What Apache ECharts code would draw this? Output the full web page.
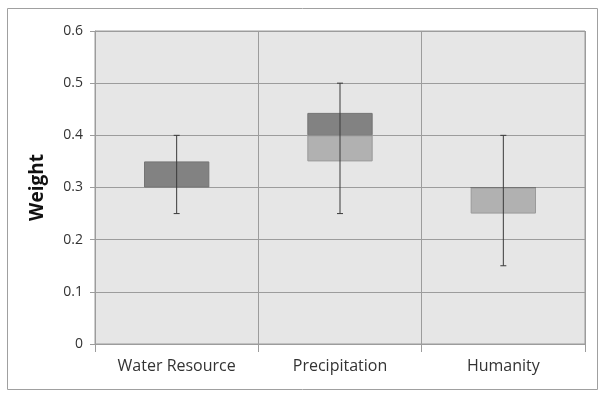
<!DOCTYPE html>
<html style="height: 100%">
<head>
<meta charset="utf-8">
</head>
<body style="height: 100%; margin: 0; background: #fff;">
<div id="container" style="width: 605px; height: 397px;"></div>
<script src="https://cdn.jsdelivr.net/npm/echarts@6/dist/echarts.min.js"></script>
<script>
// box-and-whisker values
var categories = ['Water Resource', 'Precipitation', 'Humanity'];
var whiskerLow = [0.25, 0.25, 0.15];
var q1 = [0.30, 0.35, 0.25];
var median = [0.30, 0.40, 0.30];
var q3 = [0.35, 0.443, 0.30];
var whiskerHigh = [0.40, 0.50, 0.40];
var yTicks = [0, 0.1, 0.2, 0.3, 0.4, 0.5, 0.6];

var lowerBox = q1.map(function (v, i) { return +(median[i] - v).toFixed(3); });
var upperBox = median.map(function (v, i) { return +(q3[i] - v).toFixed(3); });
var whiskers = categories.map(function (c, i) { return [i, whiskerLow[i], whiskerHigh[i]]; });

var chart = echarts.init(document.getElementById('container'));

function renderWhisker(params, api) {
    var lo = api.coord([api.value(0), api.value(1)]);
    var hi = api.coord([api.value(0), api.value(2)]);
    var cap = 3;
    var style = { stroke: '#3a3a3a', lineWidth: 1 };
    return {
        type: 'group',
        children: [
            { type: 'line', shape: { x1: lo[0], y1: lo[1], x2: hi[0], y2: hi[1] }, style: style },
            { type: 'line', shape: { x1: lo[0] - cap, y1: lo[1], x2: lo[0] + cap, y2: lo[1] }, style: style },
            { type: 'line', shape: { x1: hi[0] - cap, y1: hi[1], x2: hi[0] + cap, y2: hi[1] }, style: style }
        ]
    };
}

var option = {
    animation: false,
    textStyle: { fontFamily: 'Open Sans' },
    graphic: [{
        type: 'rect',
        shape: { x: 7.5, y: 8.5, width: 590, height: 381 },
        style: { fill: 'none', stroke: '#a0a0a0', lineWidth: 1 },
        z: -10
    }],
    grid: {
        left: 95, right: 20, top: 31, bottom: 53,
        show: true,
        backgroundColor: '#e6e6e6',
        borderColor: '#9c9c9c',
        borderWidth: 1
    },
    xAxis: {
        type: 'category',
        data: categories,
        boundaryGap: true,
        axisLine: { show: true, lineStyle: { color: '#9c9c9c' } },
        axisTick: { show: true, length: 8, lineStyle: { color: '#9c9c9c' } },
        axisLabel: { color: '#333', fontSize: 16, margin: 14 },
        splitLine: { show: true, lineStyle: { color: '#9c9c9c', width: 1 } }
    },
    yAxis: {
        type: 'value',
        min: yTicks[0],
        max: yTicks[yTicks.length - 1],
        interval: 0.1,
        name: 'Weight',
        nameLocation: 'middle',
        nameGap: 48,
        nameTextStyle: { color: '#111', fontSize: 19, fontWeight: 'bold' },
        axisLine: { show: true, lineStyle: { color: '#9c9c9c' } },
        axisTick: { show: true, length: 5, lineStyle: { color: '#9c9c9c' } },
        axisLabel: { color: '#333', fontSize: 14, margin: 12 },
        splitLine: { show: true, lineStyle: { color: '#9c9c9c', width: 1 } }
    },
    series: [
        {
            type: 'bar', stack: 'box', barWidth: '40%',
            data: q1,
            itemStyle: { color: 'transparent' },
            silent: true
        },
        {
            type: 'bar', stack: 'box', barWidth: '40%',
            data: lowerBox,
            itemStyle: { color: '#b1b1b1', borderColor: '#9a9a9a', borderWidth: 1 }
        },
        {
            type: 'bar', stack: 'box', barWidth: '40%',
            data: upperBox,
            itemStyle: { color: '#828282', borderColor: '#747474', borderWidth: 1 }
        },
        {
            type: 'custom',
            renderItem: renderWhisker,
            data: whiskers,
            encode: { x: 0, y: [1, 2] },
            z: 5
        }
    ]
};

chart.setOption(option);
</script>
</body>
</html>
